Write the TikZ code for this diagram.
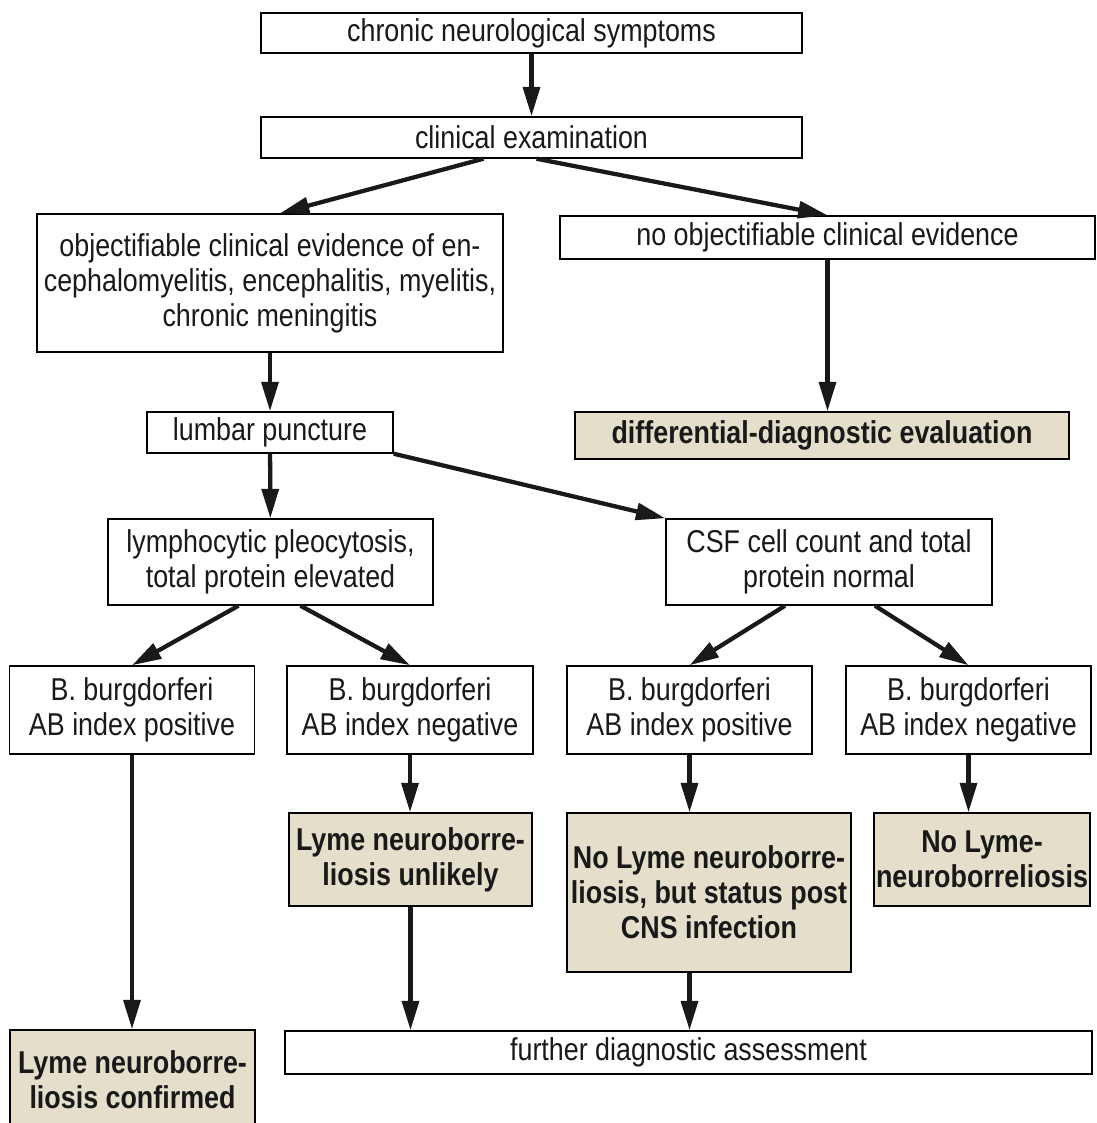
\documentclass[tikz,border=0pt]{standalone}
\usepackage{fontspec}
\setmainfont[FakeStretch=0.85]{Liberation Sans}
\usetikzlibrary{arrows.meta,calc}
\definecolor{boxfill}{RGB}{228,222,203}
\tikzset{
  box/.style={draw, line width=1.1pt, inner sep=1.5pt, align=center, text=black!90,
    font=\fontsize{23.7}{26.25}\selectfont},
  result/.style={box, fill=boxfill, font=\fontsize{23.7}{26.25}\selectfont\bfseries},
  flow/.style={line width=3.2pt, color=black!90, -{Triangle[length=22pt,width=12.5pt]}},
}
\begin{document}
\begin{tikzpicture}[x=0.75pt,y=0.75pt,yscale=-1,xscale=1]
\useasboundingbox (0,0) rectangle (1096,1123);

% Text Node
\node [box, minimum width=405.75pt, minimum height=30pt] (symptoms) at (531.5,33) {chronic neurological symptoms};
% Text Node
\node [box, minimum width=405.75pt, minimum height=30.75pt] (exam) at (531.5,137.5) {clinical examination};
% Text Node
\node [box, minimum width=349.5pt, minimum height=103.5pt] (evid) at (270,283) {objectifiable clinical evidence of en-\\cephalomyelitis, encephalitis, myelitis,\\chronic meningitis};
% Text Node
\node [box, minimum width=401pt, minimum height=32.25pt] (noevid) at (827.5,237.5) {no objectifiable clinical evidence};
% Text Node
\node [box, minimum width=184.5pt, minimum height=30.75pt] (lumbar) at (270,432.5) {lumbar puncture};
% Text Node
\node [result, minimum width=370.5pt, minimum height=35.25pt] (diffdiag) at (822,435.5) {differential-diagnostic evaluation};
% Text Node
\node [box, minimum width=243.75pt, minimum height=64.5pt] (pleo) at (270.5,562) {lymphocytic pleocytosis,\\total protein elevated};
% Text Node
\node [box, minimum width=244.5pt, minimum height=64.5pt] (csf) at (829,562) {CSF cell count and total\\protein normal};
% Text Node
\node [box, minimum width=183.75pt, minimum height=66pt] (posA) at (132,710) {B. burgdorferi\\AB index positive};
% Text Node
\node [box, minimum width=184.5pt, minimum height=66pt] (negA) at (410,710) {B. burgdorferi\\AB index negative};
% Text Node
\node [box, minimum width=183.75pt, minimum height=66pt] (posB) at (689.5,710) {B. burgdorferi\\AB index positive};
% Text Node
\node [box, minimum width=183.75pt, minimum height=66pt] (negB) at (968.5,710) {B. burgdorferi\\AB index negative};
% Text Node
\node [result, minimum width=182.25pt, minimum height=69.75pt] (unlikely) at (410.5,859.5) {Lyme neuroborre-\\liosis unlikely};
% Text Node
\node [result, minimum width=213pt, minimum height=119.25pt] (postcns) at (709,892.5) {No Lyme neuroborre-\\liosis, but status post\\CNS infection};
% Text Node
\node [result, minimum width=162pt, minimum height=69.75pt] (nolyme) at (982,859.5) {No Lyme-\\neuroborreliosis};
% Text Node
\node [result, minimum width=183.75pt, minimum height=75pt] (confirmed) at (132.5,1080) {Lyme neuroborre-\\liosis confirmed};
% Text Node
\node [box, minimum width=605.25pt, minimum height=32.25pt] (further) at (688.5,1052.5) {further diagnostic assessment};

% Arrows
\draw [flow] (symptoms) -- (exam);
\draw [flow] ($(exam.south)+(-48,0)$) -- ($(evid.north)+(10,0)$);
\draw [flow] ($(exam.south)+(5,0)$) -- (noevid.north);
\draw [flow] (evid) -- (lumbar);
\draw [flow] (noevid) -- (noevid |- diffdiag.north);
\draw [flow] (lumbar) -- (pleo);
\draw [flow] (lumbar.south east) -- (csf.north west);
\draw [flow] ($(pleo.south)+(-32,0)$) -- (posA.north);
\draw [flow] ($(pleo.south)+(30,0)$) -- (negA.north);
\draw [flow] ($(csf.south)+(-44,0)$) -- (posB.north);
\draw [flow] ($(csf.south)+(46,0)$) -- (negB.north);
\draw [flow] (posA.south) -- (posA.south |- confirmed.north);
\draw [flow] (negA.south) -- (negA.south |- unlikely.north);
\draw [flow] (unlikely.south) -- (unlikely.south |- further.north);
\draw [flow] (posB.south) -- (posB.south |- postcns.north);
\draw [flow] (negB.south) -- (negB.south |- nolyme.north);
\draw [flow] (postcns.south -| posB.south) -- (posB.south |- further.north);

\end{tikzpicture}
\end{document}
